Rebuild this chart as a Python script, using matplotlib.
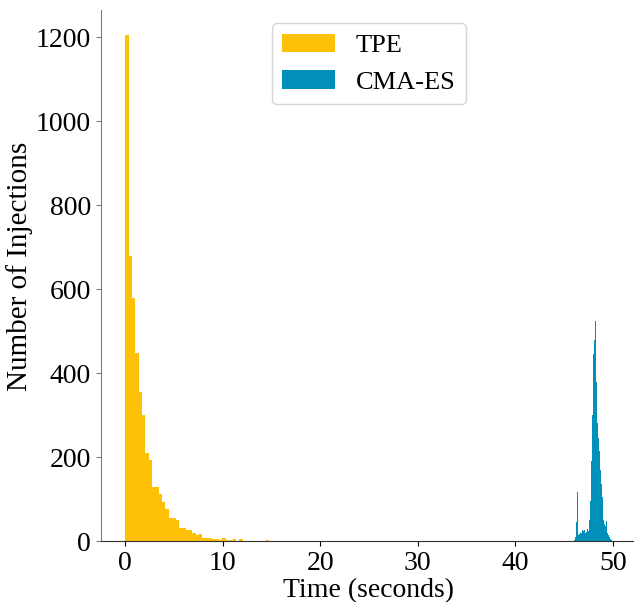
import numpy as np
import matplotlib.pyplot as plt

plt.rcParams['font.family'] = ['Liberation Serif', 'DejaVu Serif']

# binned counts
tpe_edges = np.linspace(0, 17.2, 51)
tpe_counts = [1205, 678, 578, 448, 355, 300, 210, 193, 129, 129,
              113, 93, 77, 54, 54, 50, 32, 32, 26, 26,
              18, 14, 17, 8, 6, 6, 4, 4, 3, 7,
              2, 2, 4, 1, 4, 1, 1, 1, 1, 0,
              0, 0, 3, 1, 1, 0, 1, 1, 1, 1]

cma_edges = np.linspace(46.0, 50.0, 51)
cma_counts = [3, 5, 10, 45, 116, 30, 14, 17, 19, 18,
              22, 26, 24, 26, 25, 20, 22, 28, 25, 32,
              50, 95, 190, 300, 330, 445, 480, 524, 450, 380,
              280, 245, 215, 205, 170, 135, 105, 80, 50, 40,
              36, 48, 22, 18, 14, 10, 7, 5, 3, 1]

labels = ['TPE', 'CMA-ES']
colors = ['#FFC107', '#0090BA']

fig = plt.figure(figsize=(6.34, 6.02), dpi=100)
ax = fig.add_axes([0.159, 0.1013, 0.846, 0.882])

for edges, counts, lab, col in zip([tpe_edges, cma_edges], [tpe_counts, cma_counts], labels, colors):
    centers = (edges[:-1] + edges[1:]) / 2
    ax.hist(centers, bins=edges, weights=counts, color=col, label=lab)

ax.set_xlim(-2.5, 52.5)
ax.set_ylim(0, 1265)
ax.set_xticks([0, 10, 20, 30, 40, 50])
ax.set_yticks([0, 200, 400, 600, 800, 1000, 1200])
ax.tick_params(labelsize=20)
ax.tick_params(axis='y', color='#808080')
ax.spines['top'].set_visible(False)
ax.spines['right'].set_visible(False)
ax.spines['left'].set_color('#808080')
ax.spines['bottom'].set_color('#333333')

ax.set_xlabel('Time (seconds)', fontsize=20, labelpad=2)
ax.set_ylabel('Number of Injections', fontsize=21)
ax.yaxis.set_label_coords(-0.127, 0.517)
ax.legend(loc='upper center', fontsize=19)

fig.savefig('out.png', dpi=100)
